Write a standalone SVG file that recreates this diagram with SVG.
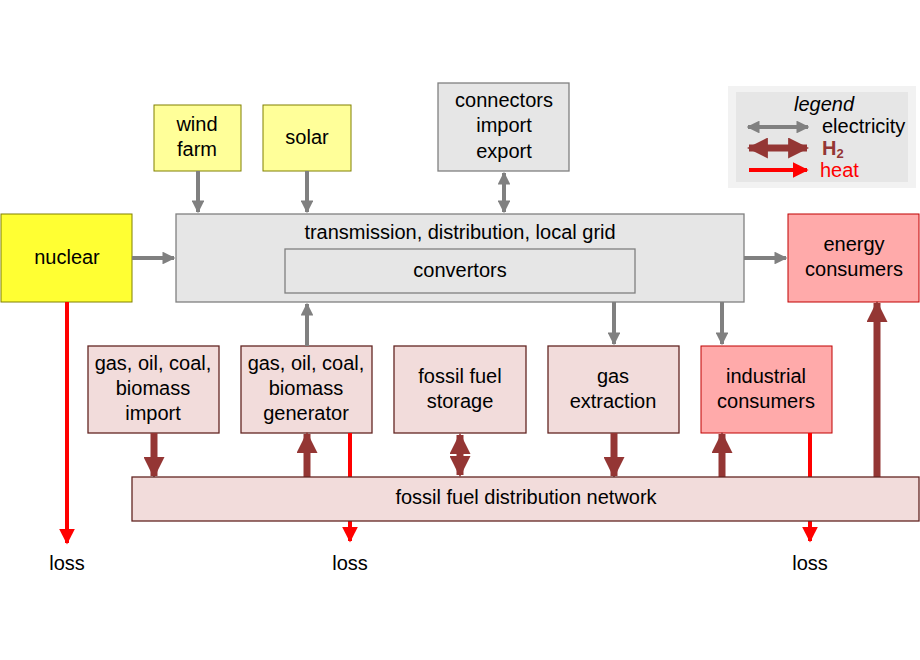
<svg xmlns="http://www.w3.org/2000/svg" width="920" height="660" viewBox="0 0 920 660">
<style>
text{font-family:"Liberation Sans",Arial,sans-serif;font-size:20px;text-anchor:middle;fill:#000}
.b{fill:#f2dcdb;stroke:#632523;stroke-width:1.3}
.y{fill:#ffff99;stroke:#808000;stroke-width:1}
.g{fill:#e6e6e6;stroke:#808080;stroke-width:1.3}
.e{stroke:#808080;stroke-width:4;fill:none}
.h{stroke:#943634;stroke-width:7;fill:none}
.r{stroke:#ff0000;stroke-width:4;fill:none}
</style>
<defs>
<marker id="ae" viewBox="0 0 10 10" refX="9" refY="5" markerWidth="3.2" markerHeight="3.2" orient="auto-start-reverse"><path d="M0,0L10,5L0,10z" fill="#808080"/></marker>
<marker id="ah" viewBox="0 0 10 10" refX="9" refY="5" markerWidth="3" markerHeight="3" orient="auto-start-reverse"><path d="M0,0L10,5L0,10z" fill="#943634"/></marker>
<marker id="ar" viewBox="0 0 10 10" refX="9" refY="5" markerWidth="4" markerHeight="4" orient="auto-start-reverse"><path d="M0,0L10,5L0,10z" fill="#ff0000"/></marker>
</defs>
<g id="legend">
<rect x="728" y="86" width="188" height="102" fill="#f2f2f2"/>
<rect x="736" y="92" width="172" height="90" fill="#e6e6e6"/>
<text x="824" y="111" style="font-style:italic">legend</text>
<text x="822" y="133" style="text-anchor:start">electricity</text>
<text x="822" y="155" style="text-anchor:start;fill:#943634;font-weight:bold">H<tspan font-size="13" dy="3">2</tspan></text>
<text x="820" y="177" style="text-anchor:start;fill:#ff0000">heat</text>
<line x1="748" y1="127" x2="808" y2="127" class="e" marker-start="url(#ae)" marker-end="url(#ae)"/>
<line x1="749" y1="148" x2="807" y2="148" class="h" marker-start="url(#ah)" marker-end="url(#ah)"/>
<line x1="749" y1="170" x2="807" y2="170" class="r" marker-end="url(#ar)"/>
</g>
<g id="wind"><rect x="154" y="105" width="87" height="66" class="y"/><text x="197" y="131">wind</text><text x="197" y="156">farm</text></g>
<g id="solar"><rect x="263" y="105" width="88" height="66" class="y"/><text x="307" y="144">solar</text></g>
<g id="connectors"><rect x="438" y="83" width="131" height="88" class="g"/><text x="504" y="107">connectors</text><text x="504" y="132">import</text><text x="504" y="158">export</text></g>
<g id="nuclear"><rect x="1" y="214" width="131" height="88" fill="#ffff33" stroke="#808000"/><text x="67" y="264">nuclear</text></g>
<g id="grid"><rect x="176" y="214" width="568" height="88" class="g"/><text x="460" y="239">transmission, distribution, local grid</text>
<rect x="285" y="249" width="350" height="44" class="g"/><text x="460" y="277">convertors</text></g>
<g id="energy"><rect x="788" y="214" width="131" height="88" fill="#ffaaaa" stroke="#c00000"/><text x="854" y="251">energy</text><text x="854" y="276">consumers</text></g>
<g id="import"><rect x="88" y="346" width="131" height="87" class="b"/><text x="153" y="370">gas, oil, coal,</text><text x="153" y="395">biomass</text><text x="153" y="420">import</text></g>
<g id="generator"><rect x="241" y="346" width="131" height="87" class="b"/><text x="306" y="370">gas, oil, coal,</text><text x="306" y="395">biomass</text><text x="306" y="420">generator</text></g>
<g id="storage"><rect x="394" y="346" width="132" height="87" class="b"/><text x="460" y="383">fossil fuel</text><text x="460" y="408">storage</text></g>
<g id="extraction"><rect x="548" y="346" width="131" height="87" class="b"/><text x="613" y="383">gas</text><text x="613" y="408">extraction</text></g>
<g id="industrial"><rect x="701" y="346" width="131" height="87" fill="#ffaaaa" stroke="#c00000"/><text x="766" y="383">industrial</text><text x="766" y="408">consumers</text></g>
<g id="loss"><text x="67" y="570">loss</text><text x="350" y="570">loss</text><text x="810" y="570">loss</text></g>
<g id="connectors-lines">
<line x1="198" y1="171" x2="198" y2="212" class="e" marker-end="url(#ae)"/>
<line x1="307" y1="171" x2="307" y2="212" class="e" marker-end="url(#ae)"/>
<line x1="504" y1="173" x2="504" y2="212" class="e" marker-start="url(#ae)" marker-end="url(#ae)"/>
<line x1="132" y1="258" x2="174" y2="258" class="e" marker-end="url(#ae)"/>
<line x1="744" y1="258" x2="786" y2="258" class="e" marker-end="url(#ae)"/>
<line x1="307" y1="346" x2="307" y2="304" class="e" marker-end="url(#ae)"/>
<line x1="614" y1="302" x2="614" y2="344" class="e" marker-end="url(#ae)"/>
<line x1="722" y1="302" x2="722" y2="344" class="e" marker-end="url(#ae)"/>
<line x1="154" y1="433" x2="154" y2="476" class="h" marker-end="url(#ah)"/>
<line x1="307" y1="477" x2="307" y2="434" class="h" marker-end="url(#ah)"/>
<line x1="460" y1="435" x2="460" y2="475" class="h" marker-start="url(#ah)" marker-end="url(#ah)"/>
<line x1="614" y1="433" x2="614" y2="476" class="h" marker-end="url(#ah)"/>
<line x1="722" y1="477" x2="722" y2="434" class="h" marker-end="url(#ah)"/>
<line x1="877" y1="477" x2="877" y2="303" class="h" marker-end="url(#ah)"/>
<line x1="67" y1="302" x2="67" y2="543" class="r" stroke-width="5" marker-end="url(#ar)"/>
<line x1="350" y1="433" x2="350" y2="541" class="r" marker-end="url(#ar)"/>
<line x1="810" y1="433" x2="810" y2="541" class="r" marker-end="url(#ar)"/>
</g>
<g id="network"><rect x="132" y="477" width="787" height="44" class="b"/><text x="526" y="504">fossil fuel distribution network</text></g>
</svg>
